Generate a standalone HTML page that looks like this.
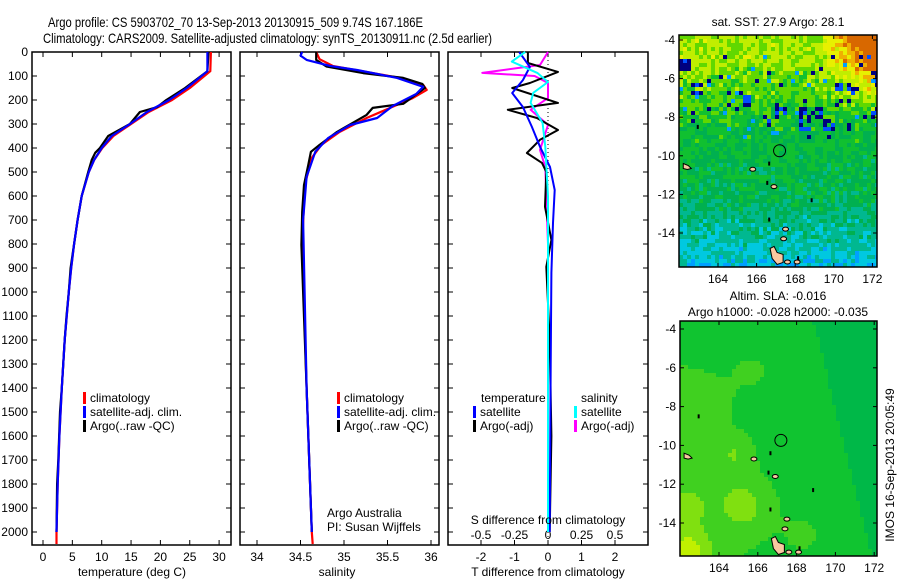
<!DOCTYPE html>
<html><head><meta charset="utf-8">
<style>
html,body{margin:0;padding:0;background:#fff;}
svg{display:block;font-family:"Liberation Sans",sans-serif;}
</style></head>
<body>
<svg id="fig" width="900" height="580" viewBox="0 0 900 580" xmlns="http://www.w3.org/2000/svg">
<text x="48" y="27" font-size="14" textLength="375" lengthAdjust="spacingAndGlyphs">Argo profile: CS 5903702_70 13-Sep-2013 20130915_509 9.74S 167.186E</text>
<text x="43" y="43" font-size="14" textLength="449" lengthAdjust="spacingAndGlyphs">Climatology: CARS2009. Satellite-adjusted climatology: synTS_20130911.nc (2.5d earlier)</text>
<g id="layer"></g>
</svg>
<script>
// ---------- data ----------
const depthTicks=[0,100,200,300,400,500,600,700,800,900,1000,1100,1200,1300,1400,1500,1600,1700,1800,1900,2000];
const tempTicks=[0,5,10,15,20,25,30];
const salTicks=[34,34.5,35,35.5,36];
const tdiffTicks=[-2,-1,0,1,2];
const sdiffTicks=[-0.5,-0.25,0,0.25,0.5];
const sdiffTickLabels=["-0.5","-0.25","0","0.25","0.5"];
const latTicks=[-4,-6,-8,-10,-12,-14];
const lonTicks=[164,166,168,170,172];

const tDepthClim=[0,80,150,200,250,300,350,400,450,500,600,700,800,900,1000,1200,1400,1600,1800,2000,2050];
const tClim=[28.6,28.5,25.0,22.0,18.0,15.0,12.0,10.1,8.7,7.8,6.6,5.9,5.3,4.8,4.4,3.7,3.2,2.8,2.5,2.3,2.3];
const tDepthSat=[0,80,150,200,250,300,350,400,450,500,600,700,800,900,1000,1200,1400,1600,1800,2000];
const tSat=[28.0,28.0,24.5,21.5,17.7,14.8,11.7,10.0,8.7,7.8,6.6,5.9,5.3,4.8,4.4,3.7,3.2,2.8,2.5,2.3];
const tDepthArgo=[0,80,150,200,230,250,300,350,400,420,450,500,600,700,800,900,1000,1100,1200,1400,1500,1700,1800,2000];
const tArgo=[28.2,28.0,24.2,21.0,19.4,16.5,14.8,11.1,9.7,8.9,8.3,7.7,6.6,5.9,5.3,4.7,4.4,4.0,3.7,3.2,2.9,2.6,2.4,2.3];

const sDepthClim=[0,30,58,83,108,137,158,192,233,275,333,387,441,554,800,1400,2000,2050];
const sClim=[34.68,34.72,34.87,35.26,35.64,35.91,35.95,35.79,35.53,35.26,34.95,34.74,34.63,34.55,34.52,34.57,34.63,34.64];
const sDepthSat=[0,15,33,58,75,108,145,175,225,275,304,358,416,520,700,1400,2000];
const sSat=[34.52,34.50,34.57,34.84,35.15,35.61,35.91,35.83,35.56,35.38,35.07,34.82,34.67,34.57,34.53,34.57,34.63];
const sDepthArgo=[0,33,61,88,108,133,150,216,233,262,333,387,416,470,554,666,804,1400,2000];
const sArgo=[34.68,34.68,34.80,35.22,35.68,35.90,35.93,35.68,35.33,35.26,34.92,34.72,34.62,34.59,34.54,34.52,34.51,34.57,34.63];

const dDepthArgoT=[0,46,83,129,150,212,241,275,325,366,421,462,500,645,783,895,1200,1600,2000];
const dArgoT=[-0.6,-0.6,0.3,-0.54,-1.07,0.3,-1.2,-0.33,0.3,-0.24,-0.63,-0.18,-0.05,-0.09,0.1,-0.05,0.05,0.1,0.05];
const dDepthSatT=[0,62,117,171,229,312,395,479,575,712,920,1300,2000];
const dSatT=[-0.86,-0.54,-0.75,-1.07,-0.75,-0.48,-0.24,0.06,0.2,0.15,0.1,0.08,0.05];
const dDepthArgoS=[0,54,80,87,100,129,192,241,304,408,480,800,2000];
const dArgoS=[0,-0.06,-0.4,-0.49,-0.1,0,0,-0.13,0,-0.06,-0.02,0,0];
const dDepthSatS=[0,40,87,125,170,212,296,395,600,2000];
const dSatS=[-0.17,-0.27,-0.08,0,-0.11,-0.13,-0.04,-0.02,0,0];

// ---------- helpers ----------
const NS="http://www.w3.org/2000/svg";
const layer=document.getElementById('layer');
function mk(tag,attrs,parent){const e=document.createElementNS(NS,tag);for(const k in attrs)e.setAttribute(k,attrs[k]);(parent||layer).appendChild(e);return e;}
function txt(x,y,s,size,anchor,parent){const t=mk('text',{x:x,y:y,'font-size':size||12,'text-anchor':anchor||'start'},parent);t.textContent=s;return t;}
const yD=d=>52+d*0.24;
function panel(x0,x1,name){
  const g=mk('g',{});
  
  
  const r=mk('rect',{x:x0,y:52,width:x1-x0,height:493,fill:'none',stroke:'#000','stroke-width':1.5},g);
  
  
  depthTicks.forEach(d=>{mk('line',{x1:x0,x2:x0+5,y1:yD(d),y2:yD(d),stroke:'#000'},g);mk('line',{x1:x1-5,x2:x1,y1:yD(d),y2:yD(d),stroke:'#000'},g);});
  return g;
}
function xticks(g,vals,fx,labels,ly){
  vals.forEach((v,i)=>{const x=fx(v);mk('line',{x1:x,x2:x,y1:52,y2:57,stroke:'#000'},g);mk('line',{x1:x,x2:x,y1:540,y2:545,stroke:'#000'},g);
    if(labels){const t=txt(x,ly,labels[i],12,'middle',g);}});
}
function line(g,xs,ds,fx,color,name,w){
  const pts=xs.map((v,i)=>fx(v).toFixed(1)+','+yD(ds[i]).toFixed(1)).join(' ');
  const p=mk('polyline',{points:pts,fill:'none',stroke:color,'stroke-width':w||2.2,'stroke-linejoin':'round'},g);
  
  
}
function legend(g,x,y,color,label){
  mk('rect',{x:x,y:y-10,width:3,height:12,fill:color},g);
  const t=txt(x+7,y,label,12,'start',g);
  
  
}

// ---------- panel 1: temperature ----------
const fT=v=>43+v*5.87;
const g1=panel(32,231,'temperature-panel');
depthTicks.forEach(d=>{const t=txt(28,yD(d)+4,String(d),12,'end',g1);});
xticks(g1,tempTicks,fT,tempTicks.map(String),561);
line(g1,tClim,tDepthClim,fT,'#ff0000','temp-climatology-line');
line(g1,tArgo,tDepthArgo,fT,'#000000','temp-argo-line');
line(g1,tSat,tDepthSat,fT,'#0000ff','temp-satellite-line');
legend(g1,83,402,'#ff0000','climatology');
legend(g1,83,416,'#0000ff','satellite-adj. clim.');
legend(g1,83,430,'#000000','Argo(..raw -QC)');
{const t=txt(132,576,'temperature (deg C)',12,'middle',g1);}

// ---------- panel 2: salinity ----------
const fS=v=>257+(v-34)*87;
const g2=panel(240,439,'salinity-panel');
xticks(g2,salTicks,fS,salTicks.map(String),561);
line(g2,sClim,sDepthClim,fS,'#ff0000','sal-climatology-line');
line(g2,sArgo,sDepthArgo,fS,'#000000','sal-argo-line');
line(g2,sSat,sDepthSat,fS,'#0000ff','sal-satellite-line');
legend(g2,337,402,'#ff0000','climatology');
legend(g2,337,416,'#0000ff','satellite-adj. clim.');
legend(g2,337,430,'#000000','Argo(..raw -QC)');
{const t=txt(327,517,'Argo Australia',12,'start',g2);}
{const t=txt(327,531,'PI: Susan Wijffels',12,'start',g2);}
{const t=txt(337,576,'salinity',12,'middle',g2);}

// ---------- panel 3: differences ----------
const fDT=v=>548+v*33.5;
const fDS=v=>548+v*134;
const g3=panel(448,648,'difference-panel');
xticks(g3,tdiffTicks,fDT,tdiffTicks.map(String),561);
mk('line',{x1:548,x2:548,y1:52,y2:545,stroke:'#000','stroke-dasharray':'1,3'},g3);
sdiffTicks.forEach((v,i)=>{const t=txt(fDS(v),539,sdiffTickLabels[i],12,'middle',g3);});
line(g3,dArgoS,dDepthArgoS,fDS,'#ff00ff','sal-diff-argo-line',2);
line(g3,dArgoT,dDepthArgoT,fDT,'#000000','temp-diff-argo-line',2);
line(g3,dSatT,dDepthSatT,fDT,'#0000ff','temp-diff-satellite-line',2);
line(g3,dSatS,dDepthSatS,fDS,'#00ffff','sal-diff-satellite-line',2);
{const t=txt(481,402,'temperature',12,'start',g3);}
{const t=txt(581,402,'salinity',12,'start',g3);}
legend(g3,473,416,'#0000ff','satellite');
legend(g3,473,430,'#000000','Argo(-adj)');
legend(g3,574,416,'#00ffff','satellite');
legend(g3,574,430,'#ff00ff','Argo(-adj)');
{const t=txt(548,524,'S difference from climatology',12,'middle',g3);}
{const t=txt(548,576,'T difference from climatology',12,'middle',g3);}

// ---------- maps ----------
const sstPal=['#00007f','#0050ff','#00a0ff','#00c8e0','#00b890','#00b050','#10c030','#60d800','#c0ee00','#e8f000','#f0b000','#d86800'];
const slaPal=['#00a860','#00b848','#10c430','#40d020','#80e010','#c0f000'];
function hash(a,b,s){let h=(a*374761393+b*668265263+s*2147483647)|0;h=(h^(h>>>13))*1274126177|0;return ((h^(h>>>16))>>>0)/4294967295;}
function grp(name){const g=mk('g',{});return g;}
function drawMap(g,x0,y0,w,h,cell,colorFn){
  const cg=mk('g',{},g);
  
  
  const nc=Math.ceil(w/cell),nr=Math.ceil(h/cell);
  for(let r=0;r<nr;r++)for(let c=0;c<nc;c++){
    mk('rect',{x:x0+c*cell,y:y0+r*cell,width:Math.min(cell,w-c*cell)+0.3,height:Math.min(cell,h-r*cell)+0.3,fill:colorFn(r,c,nr,nc)},cg);
  }
}
function mapAxes(g,x0,y0,w,h,lonX,latY){
  mk('rect',{x:x0,y:y0,width:w,height:h,fill:'none',stroke:'#000','stroke-width':1.5},g);
  latTicks.forEach(v=>{const y=latY(v);mk('line',{x1:x0,x2:x0+4,y1:y,y2:y,stroke:'#000'},g);mk('line',{x1:x0+w-4,x2:x0+w,y1:y,y2:y,stroke:'#000'},g);
    const t=txt(x0-4,y+4,String(v),12,'end',g);});
  lonTicks.forEach(v=>{const x=lonX(v);mk('line',{x1:x,x2:x,y1:y0,y2:y0+4,stroke:'#000'},g);mk('line',{x1:x,x2:x,y1:y0+h-4,y2:y0+h,stroke:'#000'},g);
    const t=txt(x,y0+h+16,String(v),12,'middle',g);});
}
function islands(g,lonX,latY){
  const ig=mk('g',{},g);
  
  
  mk('path',{d:`M${lonX(166.7)},${latY(-14.8)} l4,-2 l3,6 l6,2 l0,8 l-6,2 l-5,-6 z`,fill:'#f8c8a0',stroke:'#000','stroke-width':1},ig);
  mk('path',{d:`M${lonX(162.2)},${latY(-10.4)} l5,2 l3,3 l-4,1 l-4,-1 z`,fill:'#f8c8a0',stroke:'#000','stroke-width':1},ig);
  [[165.8,-10.7],[166.9,-11.6],[167.5,-13.8],[167.4,-14.3],[168.1,-15.5],[167.6,-15.5]].forEach(p=>mk('ellipse',{cx:lonX(p[0]),cy:latY(p[1]),rx:3,ry:2,fill:'#f8c8a0',stroke:'#000','stroke-width':1},ig));
  [[166.5,-11.3],[166.6,-13.2],[168.8,-12.2],[162.9,-8.4],[168.1,-15.2],[166.6,-10.3]].forEach(p=>mk('rect',{x:lonX(p[0]),y:latY(p[1]),width:2,height:4,fill:'#000'},ig));
}
// map 1 SST
const lon1=v=>718+(v-164)*19.3, lat1=v=>40+(-4-v)*19.3;
const m1=grp('sst-map');
drawMap(m1,679,35,198,232,4,(r,c,nr,nc)=>{
  let b;
  if(r<6) b=7.6; else if(r<24) b=7.6-(r-6)*0.11; else if(r<38) b=5.6-(r-24)*0.03; else b=5.2-(r-38)*0.12;
  if(c>34&&r<20) b+=(c-34)/6*(1-r/20)*2.4;
  let v=b+(hash(r,c,1)-0.5)*2.0;
  const cl=hash(Math.floor(r/3),Math.floor(c/3),7);
  if(r>4&&r<24&&cl>0.84&&hash(r,c,4)>0.4) v=hash(r,c,3)>0.35?0:1;
  else if(r>4&&r<26&&hash(r,c,9)>0.94) v=hash(r,c,2)>0.5?0:2;
  v=Math.max(0,Math.min(sstPal.length-1,Math.round(v)));
  return sstPal[v];
});
mapAxes(m1,679,35,198,232,lon1,lat1);
islands(m1,lon1,lat1);
mk('circle',{cx:lon1(167.19),cy:lat1(-9.74),r:6,fill:'none',stroke:'#000','stroke-width':1},m1);
{const t=txt(778,26,'sat. SST: 27.9 Argo: 28.1',12,'middle',m1);}

// map 2 SLA
const lon2=v=>719+(v-164)*19.4, lat2=v=>329+(-4-v)*19.4;
const m2=grp('sla-map');
{const t=txt(778,300,'Altim. SLA: -0.016',12,'middle',m2);}
{const t=txt(778,316,'Argo h1000: -0.028 h2000: -0.035',12,'middle',m2);}
drawMap(m2,680,321,197,235,4,(r,c,nr,nc)=>{
  const lon=162.1+c*4/19.4, lat=-3.6-r*4/19.4;
  let v=2.4-1.3*((lon-162)/10)+0.4*(-lat-4)/12;
  v+=1.6*Math.exp(-((lon-165.3)**2+(lat+13)**2)/2.5);
  v+=2.6*Math.exp(-((lon-162.4)**2+(lat+15.5)**2)/1.5);
  v+=1.2*Math.exp(-((lon-164.8)**2+(lat+10.3)**2)/1.0);
  v+=1.2*Math.exp(-((lon-162.4)**2+(lat+13)**2)/1.2);
  v+=0.9*Math.exp(-((lon-163)**2+(lat+8)**2)/2);
  v+=0.8*Math.exp(-((lon-168.5)**2+(lat+14.5)**2)/1.5);
  v+=0.6*Math.exp(-((lon-166)**2+(lat+6)**2)/3);
  v=Math.max(0,Math.min(slaPal.length-1,Math.round(v)));
  return slaPal[v];
});
mapAxes(m2,680,321,197,235,lon2,lat2);
islands(m2,lon2,lat2);
mk('circle',{cx:lon2(167.19),cy:lat2(-9.74),r:6,fill:'none',stroke:'#000','stroke-width':1},m2);
{const t=txt(0,0,'IMOS 16-Sep-2013 20:05:49',12,'middle');t.setAttribute('transform','translate(894,465) rotate(-90)');}
</script>
</body></html>
